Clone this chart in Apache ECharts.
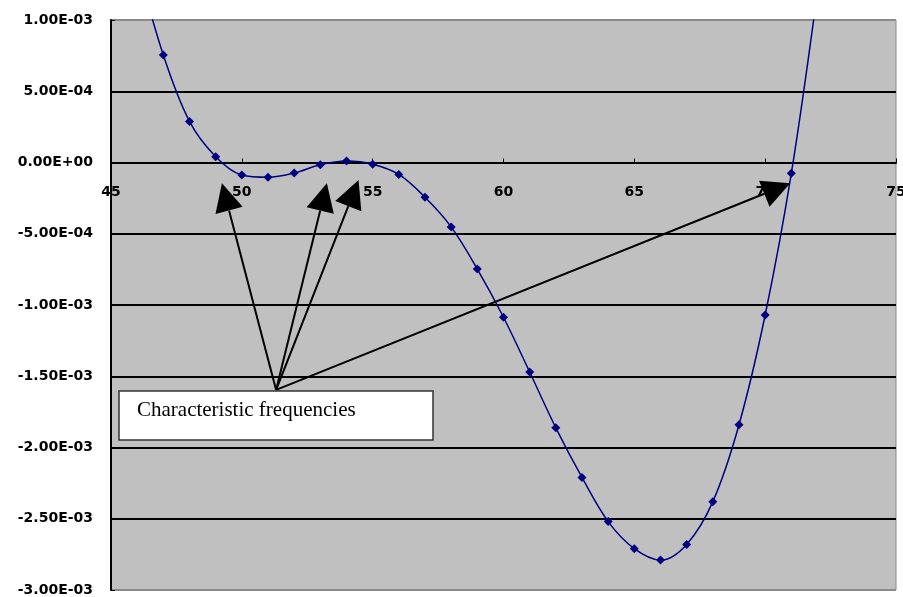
<!DOCTYPE html>
<html>
<head>
<meta charset="utf-8">
<script src="https://cdn.jsdelivr.net/npm/echarts@6/dist/echarts.min.js"></script>
<style>
  html, body { margin: 0; padding: 0; background: #fff; }
  #chart { width: 903px; height: 597px; }
</style>
</head>
<body>
<div id="chart"></div>
<script>
// frequency values (46 and 72 run off the top of the plot)
const FREQ = [46, 47, 48, 49, 50, 51, 52, 53, 54, 55, 56, 57, 58, 59, 60,
  61, 62, 63, 64, 65, 66, 67, 68, 69, 70, 71, 72]
// determinant value, in units of 1e-3
const DET = [1.40, 0.754, 0.288, 0.041, -0.088, -0.104, -0.074, -0.016, 0.010, -0.012,
  -0.084, -0.244, -0.452, -0.748, -1.086, -1.47, -1.862, -2.21, -2.52, -2.71,
  -2.79, -2.68, -2.38, -1.84, -1.07, -0.076, 1.20]

const X_TICKS = [45, 50, 55, 60, 65, 70, 75]
const Y_TICKS = [-3e-3, -2.5e-3, -2e-3, -1.5e-3, -1e-3, -5e-4, 0, 5e-4, 1e-3]

const NOTE = 'Characteristic frequencies'
// arrow start and tips, in data coordinates
const ARROW_FROM = [51.31, -1.596e-3]
const ARROW_TIPS = [
  [49.24, -1.46e-4],
  [53.25, -1.46e-4],
  [54.46, -1.23e-4],
  [70.96, -1.46e-4]
]

const FONT = 'DejaVu Sans'
const GRID = { left: 111, top: 20, right: 7, bottom: 7 }

function sci(v) {
  // Excel style 0.00E+00
  if (Math.abs(v) < 1e-12) return '0.00E+00'
  let s = v.toExponential(2).toUpperCase()
  return s.replace(/E([+-])(\d)$/, 'E$10$2')
}

const data = FREQ.map((f, i) => [f, DET[i] * 1e-3])

const myChart = echarts.init(document.getElementById('chart'))

// x axis sits on y = 0; v6 leaves labels at the grid bottom with onZero,
// so shift the whole axis up instead
const yMin = Y_TICKS[0], yMax = Y_TICKS[Y_TICKS.length - 1]
const gridH = 597 - GRID.top - GRID.bottom
const zeroOffset = -gridH * (0 - yMin) / (yMax - yMin)

const splitColors = Y_TICKS.map((t, i) =>
  (i === 0 || i === Y_TICKS.length - 1) ? '#8a8a8a' : '#000')

const option = {
  animation: false,
  grid: Object.assign({
    outerBoundsMode: 'none',
    containLabel: false,
    show: true,
    backgroundColor: '#c0c0c0',
    borderColor: '#8a8a8a',
    borderWidth: 1
  }, GRID),
  xAxis: {
    type: 'value',
    min: X_TICKS[0],
    max: X_TICKS[X_TICKS.length - 1],
    interval: 5,
    offset: zeroOffset,
    axisLine: { onZero: false, lineStyle: { color: '#000', width: 2 } },
    axisTick: { inside: true, length: 4, lineStyle: { color: '#000' } },
    axisLabel: {
      margin: 23,
      color: '#000',
      fontFamily: FONT,
      fontSize: 14,
      fontWeight: 'bold'
    },
    splitLine: { show: false }
  },
  yAxis: {
    type: 'value',
    min: yMin,
    max: yMax,
    interval: 5e-4,
    axisLine: { show: true, onZero: false, lineStyle: { color: '#000', width: 2 } },
    axisTick: { show: true, inside: true, length: 4, lineStyle: { color: '#000' } },
    axisLabel: {
      margin: 18,
      color: '#000',
      fontFamily: FONT,
      fontSize: 14,
      fontWeight: 'bold',
      padding: [8, 0, 0, 0],
      formatter: sci
    },
    splitLine: { show: true, lineStyle: { color: splitColors, width: 2 } }
  },
  series: [{
    type: 'line',
    data: data,
    smooth: 0.35,
    clip: true,
    symbol: 'diamond',
    symbolSize: 9,
    lineStyle: { color: '#000080', width: 1.5 },
    itemStyle: { color: '#000080' },
    z: 3
  }]
}

myChart.setOption(option)

// annotation: box with label and arrows
function px(p) {
  return myChart.convertToPixel({ gridIndex: 0 }, p)
}

const from = px(ARROW_FROM)
const graphics = []
ARROW_TIPS.forEach(t => {
  const tip = px(t)
  const dx = tip[0] - from[0]
  const dy = tip[1] - from[1]
  const len = Math.sqrt(dx * dx + dy * dy)
  const ux = dx / len, uy = dy / len
  const headLen = 28, headHalf = 14
  const bx = tip[0] - ux * headLen
  const by = tip[1] - uy * headLen
  graphics.push({
    type: 'line',
    z: 10,
    shape: { x1: from[0], y1: from[1], x2: bx, y2: by },
    style: { stroke: '#000', lineWidth: 2 }
  })
  graphics.push({
    type: 'polygon',
    z: 10,
    shape: { points: [tip, [bx - uy * headHalf, by + ux * headHalf], [bx + uy * headHalf, by - ux * headHalf]] },
    style: { fill: '#000' }
  })
})

graphics.push({
  type: 'rect',
  z: 11,
  shape: { x: 119, y: 391, width: 314, height: 49 },
  style: { fill: '#fff', stroke: '#333', lineWidth: 1.5 }
})
graphics.push({
  type: 'text',
  z: 12,
  x: 137,
  y: 400,
  style: {
    text: NOTE,
    fill: '#000',
    font: '21px "Liberation Serif"'
  }
})

myChart.setOption({ graphic: graphics })
</script>
</body>
</html>
